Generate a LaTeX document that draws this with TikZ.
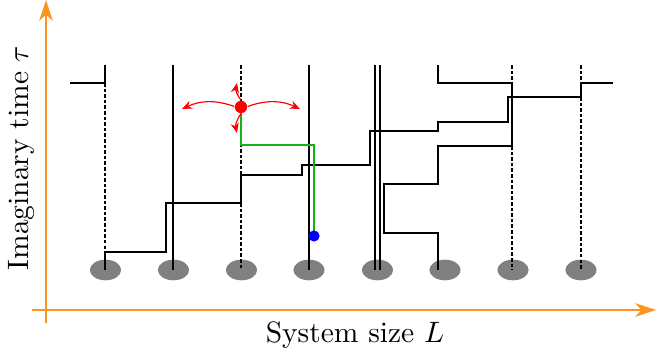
\documentclass[tikz,border=0pt]{standalone}
\usepackage{amsmath,amssymb}
\usepackage{tikz}
\usetikzlibrary{arrows.meta,shapes.geometric}
\definecolor{axisorange}{RGB}{250,150,30}
\definecolor{wormgreen}{RGB}{20,178,20}

\begin{document}
\begin{tikzpicture}[x=0.339pt, y=-0.339pt,
  site/.style={ellipse, fill=gray, inner sep=0pt, minimum width=10.6pt, minimum height=7pt},
  occ/.style={line width=0.65pt},
  empty/.style={line width=0.7pt, dash pattern=on 1.2pt off 0.7pt},
  worm/.style={wormgreen, line width=0.65pt},
  dot/.style={circle, inner sep=0pt, minimum size=4pt},
  hop/.style={red, line width=0.4pt, -{Stealth[length=3.4pt, width=2.8pt]}},
  axis/.style={axisorange, line width=0.55pt, -{Stealth[length=7pt, width=4.6pt, inset=2pt]}}
]
\useasboundingbox (0,0) rectangle (656,356);

% axes
\coordinate (ybot) at (46,323);
\coordinate (ytop) at (46,0);
\coordinate (xleft) at (32,310);
\coordinate (xright) at (656,310);
\draw[axis] (ybot) -- (ytop);
\draw[axis] (xleft) -- (xright);
\node[rotate=90, anchor=base] (tlabel) at (28,158) {Imaginary time $\tau$};
\node[anchor=base] (llabel) at (355,343) {System size $L$};

% lattice sites
\foreach \x [count=\n] in {105.5,173.5,241.5,309,377.5,445,513,581}
  \node[site] (site\n) at (\x,270) {};

% empty stretches
\draw[empty] (105,83) -- (105,252);
\draw[empty] (241,65) -- (241,175);
\draw[empty] (241,203) -- (241,270);
\draw[empty] (512,65) -- (512,83);
\draw[empty] (512,146) -- (512,270);
\draw[empty] (581,65) -- (581,83);
\draw[empty] (581,97) -- (581,270);

% world lines
\draw[occ] (173,65) -- (173,270);
\draw[occ] (309,65) -- (309,270);
\draw[occ] (375,65) -- (375,270);
\draw[occ] (380,65) -- (380,270);
\draw[occ] (70,83) -- (105,83) -- (105,65);
\draw[occ] (105,270) -- (105,252) -- (166,252) -- (166,203) -- (241,203)
  -- (241,175) -- (302,175) -- (302,165) -- (370,165) -- (370,131)
  -- (438,131) -- (438,122) -- (508,122) -- (508,97) -- (581,97)
  -- (581,83) -- (613,83);
\draw[occ] (438,65) -- (438,83) -- (512,83) -- (512,146) -- (438,146)
  -- (438,184) -- (384,184) -- (384,233) -- (438,233) -- (438,270);

% worm
\draw[worm] (241,107) -- (241,145) -- (314,145) -- (314,236);
\node[dot, fill=red, minimum size=4.2pt] (head) at (241,107) {};
\node[dot, fill=blue, minimum size=3.8pt] (tail) at (314,236) {};

% moves of the head
\coordinate (hopL) at (182,109);
\coordinate (hopR) at (300,109);
\coordinate (hopU) at (237,83);
\coordinate (hopD) at (237,133);
\draw[hop] (head.175) to[bend right=22] (hopL);
\draw[hop] (head.5) to[bend left=22] (hopR);
\draw[hop] (head.north) to[bend left=25] (hopU);
\draw[hop] (head.south) to[bend right=25] (hopD);
\end{tikzpicture}
\end{document}
